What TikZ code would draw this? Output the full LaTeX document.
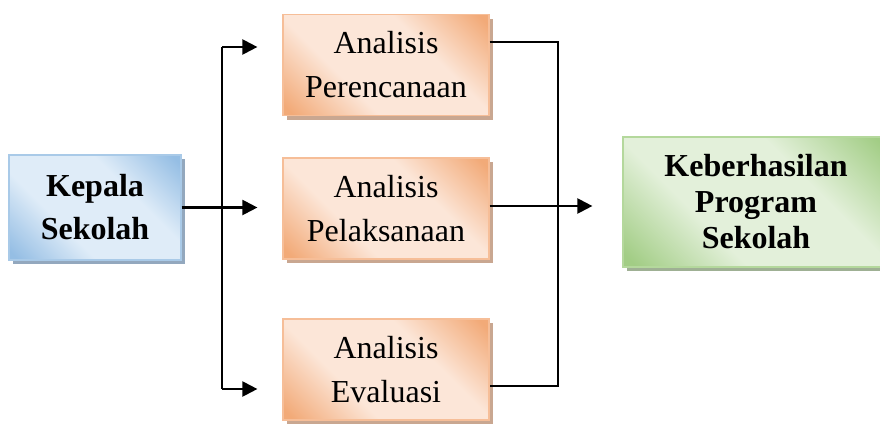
\documentclass[tikz,border=0pt]{standalone}
\usepackage{fontspec}
\setmainfont{Liberation Serif}
\usetikzlibrary{arrows.meta,shadows,calc}

\definecolor{orDark}{HTML}{F2AA78}
\definecolor{orLight}{HTML}{FCE6D8}
\definecolor{orBorder}{HTML}{F6BE98}
\definecolor{orShadow}{HTML}{C9A791}
\definecolor{blDark}{HTML}{95BEE4}
\definecolor{blLight}{HTML}{DFECF8}
\definecolor{blBorder}{HTML}{A9CAE8}
\definecolor{blShadow}{HTML}{93A8BE}
\definecolor{grDark}{HTML}{A2CD85}
\definecolor{grLight}{HTML}{E3F0DA}
\definecolor{grBorder}{HTML}{B4D89C}
\definecolor{grShadow}{HTML}{9FB094}

% diagonal gradient with a wide light band: dark only towards two opposite corners
\newcommand{\makediagshading}[3]{%
  \pgfdeclarehorizontalshading{#1}{100bp}{%
    color(0bp)=(#2); color(17bp)=(#2); color(37bp)=(#3);
    color(63bp)=(#3); color(83bp)=(#2); color(100bp)=(#2)}}
\makediagshading{orshade}{orDark}{orLight}
\makediagshading{blshade}{blDark}{blLight}
\makediagshading{grshade}{grDark}{grLight}

\tikzset{
  boxbase/.style={draw, line width=1.2pt, align=center, inner sep=0pt, shading angle=45},
  orangebox/.style={boxbase, draw=orBorder, shading=orshade,
    minimum width=206pt, minimum height=101pt,
    font=\fontsize{32}{44}\selectfont,
    drop shadow={shadow xshift=4pt, shadow yshift=-4pt, fill=orShadow, opacity=1}},
  bluebox/.style={boxbase, draw=blBorder, shading=blshade,
    minimum width=172pt, minimum height=105pt,
    font=\fontsize{32}{43}\selectfont\bfseries,
    drop shadow={shadow xshift=4pt, shadow yshift=-4pt, fill=blShadow, opacity=1}},
  greenbox/.style={boxbase, draw=grBorder, shading=grshade,
    minimum width=266pt, minimum height=130pt,
    font=\fontsize{32}{36}\selectfont\bfseries,
    drop shadow={shadow xshift=4pt, shadow yshift=-4pt, fill=grShadow, opacity=1}},
  link/.style={line width=2.2pt, black},
  arr/.style={link, -{Triangle[length=15pt,width=15pt]}},
}

\begin{document}
\begin{tikzpicture}[x=1pt, y=-1pt]
  \clip (0,0) rectangle (880,423);

  % boxes
  \node[bluebox]   (kepala) at (95,207.5) {Kepala\\Sekolah};
  \node[orangebox] (plan)   at (386,65)   {Analisis\\Perencanaan};
  \node[orangebox] (exec)   at (386,208.5){Analisis\\Pelaksanaan};
  \node[orangebox] (eval)   at (386,369.5){Analisis\\Evaluasi};
  \node[greenbox]  (hasil)  at (756,202)  {Keberhasilan\\Program\\Sekolah};

  % branching point on the left and merging point on the right
  \coordinate (split)  at (222,0);
  \coordinate (merge)  at (558,0);

  % left side: from the principal to the three analyses
  \coordinate (inTop) at ($(plan.west)+(-25,-18)$);
  \coordinate (inMid) at ($(exec.west |- kepala.east)+(-25,0)$);
  \coordinate (inBot) at ($(eval.west)+(-25,19.5)$);
  \draw[arr] (kepala.east) -- (inMid);
  \draw[link] (split |- inTop) -- (split |- inBot);
  \draw[arr] (split |- inTop) -- (inTop);
  \draw[arr] (split |- inBot) -- (inBot);

  % right side: the analyses merge into the outcome
  \coordinate (outTop) at ($(plan.east)+(0,-23)$);
  \coordinate (outBot) at ($(eval.east)+(0,16.5)$);
  \coordinate (toGoal) at ($(hasil.west |- exec.east)+(-30,-2.5)$);
  \draw[link] (outTop) -- (merge |- outTop) -- (merge |- outBot) -- (outBot);
  \draw[arr] ($(exec.east)+(0,-2.5)$) -- (toGoal);
\end{tikzpicture}
\end{document}
